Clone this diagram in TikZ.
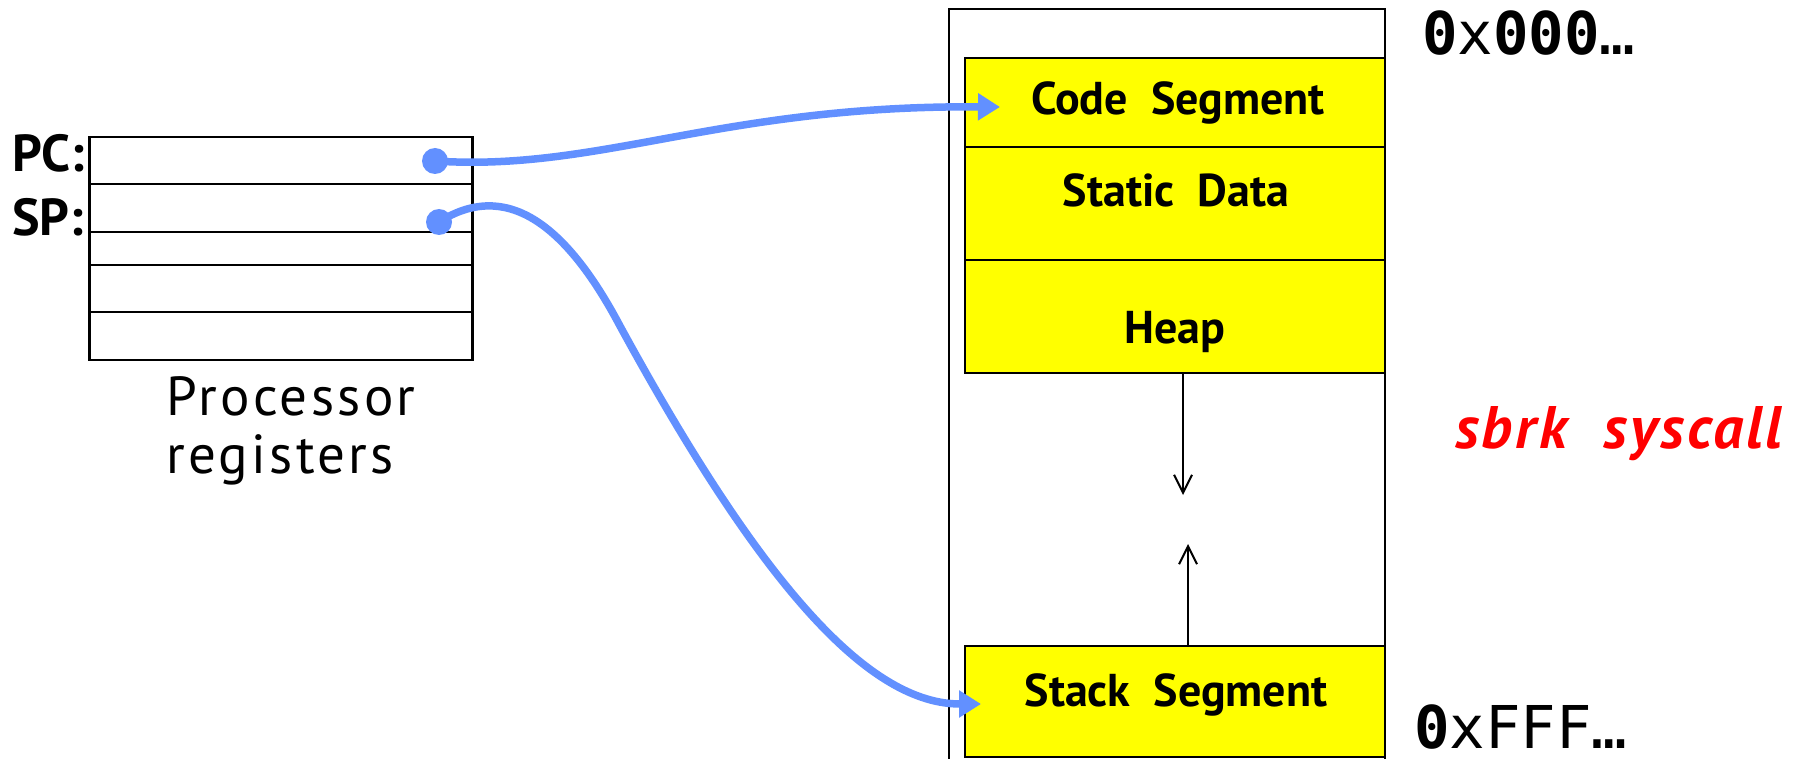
\documentclass[tikz,border=0pt]{standalone}
\usepackage{fontspec}
\setmainfont{PT Sans}
\newfontfamily\hexfont{DejaVu Sans Mono}
\newfontfamily\widefont[LetterSpace=6]{PT Sans}
\newfontfamily\callfont[LetterSpace=5]{PT Sans}
\usetikzlibrary{arrows.meta}
\definecolor{ptrblue}{RGB}{98,144,255}
\definecolor{segyellow}{RGB}{255,255,0}
\definecolor{callred}{RGB}{255,0,0}
\tikzset{
  regbox/.style={draw, line width=2.5pt, minimum width=383pt, minimum height=223pt, inner sep=0pt},
  regline/.style={line width=2.5pt},
  segbox/.style={draw, fill=segyellow, line width=2.5pt, minimum width=420pt, inner sep=0pt},
  segtext/.style={anchor=base, inner sep=0pt, font=\fontsize{46}{54}\bfseries\selectfont},
  memline/.style={line width=2pt},
  growarrow/.style={line width=2pt, -{Straight Barb[length=18pt, width=18pt, line width=2pt]}},
  ptrdot/.style={circle, fill=ptrblue, minimum size=26pt, inner sep=0pt},
  ptrline/.style={draw=ptrblue, line width=7.5pt, -{Triangle[length=22pt, width=26pt]}},
  reglabel/.style={anchor=base west, inner sep=0pt, font=\fontsize{52}{60}\bfseries\selectfont},
  caption/.style={anchor=base west, inner sep=0pt, font=\widefont\fontsize{55}{63}\selectfont},
  addr/.style={anchor=base west, inner sep=0pt, font=\hexfont\fontsize{59}{66}\selectfont},
  calltext/.style={anchor=base west, inner sep=0pt, text=callred, font=\callfont\fontsize{60}{68}\bfseries\itshape\selectfont}
}
\begin{document}
\begin{tikzpicture}[x=1pt, y=-1pt]
\useasboundingbox (0,0) rectangle (1803,759);
\clip (0,0) rectangle (1803,759);

% processor registers
\node[regbox] (regs) at (281,248.5) {};
\foreach \yy in {184,232,265,312}
  \draw[regline] (regs.west |- 0,\yy) -- (regs.east |- 0,\yy);
\node[reglabel] (pc) at (12,172) {PC:};
\node[reglabel] (sp) at (12,236) {SP:};
\node[caption] (cap1) at (166,415) {Processor};
\node[caption] (cap2) at (166,473) {registers};

% address space
\draw[memline] (949,790) |- (1385,9) -- (1385,790);
\node[segbox, minimum height=89pt] (code) at (1175,102.5) {};
\node[segbox, minimum height=113pt] (static) at (1175,203.5) {};
\node[segbox, minimum height=113pt] (heap) at (1175,316.5) {};
\node[segbox, minimum height=111pt] (stack) at (1175,701.5) {};
\node[segtext] (codetxt) at (1178,115) {Code\ \ Segment};
\node[segtext] (statictxt) at (1176,207) {Static\ \ Data};
\node[segtext] (heaptxt) at (1175,343) {Heap};
\node[segtext] (stacktxt) at (1176,706) {Stack\ \ Segment};

% growth directions of heap and stack
\coordinate (heapgrow) at (1183,495);
\coordinate (stackgrow) at (1188,544);
\draw[growarrow] (heap.south -| heapgrow) -- (heapgrow);
\draw[growarrow] (stack.north -| stackgrow) -- (stackgrow);

% addresses and annotation
\node[addr] (low) at (1422,55) {\textbf{0}x\textbf{000}…};
\node[addr] (high) at (1414,748) {\textbf{0}xFFF…};
\node[calltext] (sbrk) at (1455,448) {sbrk\ \ syscall};

% register pointers
\node[ptrdot] (pcdot) at (435,161) {};
\node[ptrdot] (spdot) at (439,222) {};
\coordinate (codetip) at (1000,107);
\coordinate (stacktip) at (981,704);
\draw[ptrline] (pcdot.center) .. controls (600,172) and (720,105) .. (codetip);
\draw[ptrline] (spdot.center) .. controls (505,180) and (565,222) .. (620,326)
  .. controls (764,590) and (870,704) .. (stacktip);
\end{tikzpicture}
\end{document}
